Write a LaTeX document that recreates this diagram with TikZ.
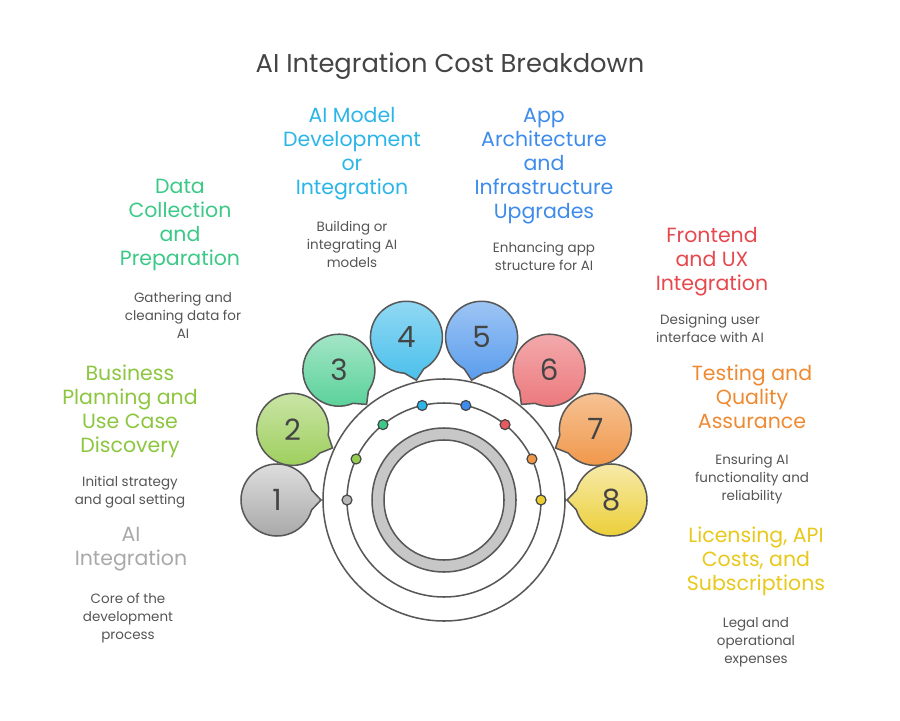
\documentclass[tikz,border=0pt]{standalone}
\usepackage{fontspec}
\setmainfont{Poppins}
\usetikzlibrary{positioning,calc}
\definecolor{ink}{HTML}{444444}
\definecolor{descgray}{HTML}{555555}
\definecolor{cone}{HTML}{A9A9A9}
\definecolor{ctwo}{HTML}{8CC63F}
\definecolor{cthree}{HTML}{3CC987}
\definecolor{cfour}{HTML}{2BB5E8}
\definecolor{cfive}{HTML}{3D8BEA}
\definecolor{csix}{HTML}{E5484D}
\definecolor{cseven}{HTML}{EE8A32}
\definecolor{ceight}{HTML}{E9C81C}
\tikzstyle{heading}=[align=center,anchor=north,inner sep=0pt,font=\fontsize{17.5}{20.4}\selectfont]
\tikzstyle{desc}=[align=center,anchor=north,inner sep=0pt,text=descgray,font=\fontsize{11.5}{15.3}\selectfont]
\tikzstyle{ring}=[draw=ink!90,line width=1.3pt]
\tikzstyle{num}=[text=ink,font=\fontsize{25}{25}\selectfont]

\begin{document}
\begin{tikzpicture}[x=0.03cm,y=0.03cm]
    \useasboundingbox (0,0) rectangle (900,720);

    \node[text=ink,font=\fontsize{22}{26}\selectfont] (title) at (450,654) {AI Integration Cost Breakdown};

    % rings
    \coordinate (hub) at (444,220);
    \draw[ring] (hub) circle[radius=121];
    \draw[ring] (hub) circle[radius=97];
    \draw[ring,fill=black!22,even odd rule] (hub) circle[radius=72] (hub) circle[radius=60];

    % bubbles and dots
    \foreach \i/\a/\top/\bot/\dot in {1/180/black!12/black!35/black!28,
        2/155/ctwo!45/ctwo!85/ctwo!90,
        3/129/cthree!45/cthree!85/cthree,
        4/103/cfour!50/cfour!85/cfour,
        5/77/cfive!50/cfive!85/cfive,
        6/51/csix!45/csix!75/csix!90,
        7/25/cseven!50/cseven!90/cseven!90,
        8/0/ceight!35/ceight!90/ceight!90} {
      \pgfmathsetmacro\s{\a+196}
      \pgfmathsetmacro\e{\a+524}
      \draw[ring,top color=\top,bottom color=\bot]
        ($(hub)+(\a:167)$) ++(\s:36) arc[start angle=\s,end angle=\e,radius=36]
        -- ($(hub)+(\a:123)$) -- cycle;
      \node[num] (n\i) at ($(hub)+(\a:167)$) {\i};
      \filldraw[fill=\dot,draw=ink,line width=1pt] ($(hub)+(\a:97)$) circle[radius=5];
    }

    % labels
    \node[heading,text=cthree] (data) at (180,541) {Data\\Collection\\and\\Preparation};
    \node[desc] (datad) at (183,428) {Gathering and\\cleaning data for\\AI};
    \node[heading,text=cfour] (model) at (352,613) {AI Model\\Development\\or\\Integration};
    \node[desc] (modeld) at (352,499) {Building or\\integrating AI\\models};
    \node[heading,text=cfive] (arch) at (544,612) {App\\Architecture\\and\\Infrastructure\\Upgrades};
    \node[desc] (archd) at (544,478) {Enhancing app\\structure for AI};
    \node[heading,text=csix] (front) at (712,493) {Frontend\\and UX\\Integration};
    \node[desc] (frontd) at (710,406) {Designing user\\interface with AI};
    \node[heading,text=cseven] (test) at (752,355) {Testing and\\Quality\\Assurance};
    \node[desc] (testd) at (752,266) {Ensuring AI\\functionality and\\reliability};
    \node[heading,text=ceight] (lic) at (756,193) {Licensing, API\\Costs, and\\Subscriptions};
    \node[desc] (licd) at (756,103) {Legal and\\operational\\expenses};
    \node[heading,text=ctwo] (biz) at (130,355) {Business\\Planning and\\Use Case\\Discovery};
    \node[desc] (bizd) at (130,244) {Initial strategy\\and goal setting};
    \node[heading,text=cone] (core) at (131,193) {AI\\Integration};
    \node[desc] (cored) at (128,127) {Core of the\\development\\process};
\end{tikzpicture}
\end{document}
